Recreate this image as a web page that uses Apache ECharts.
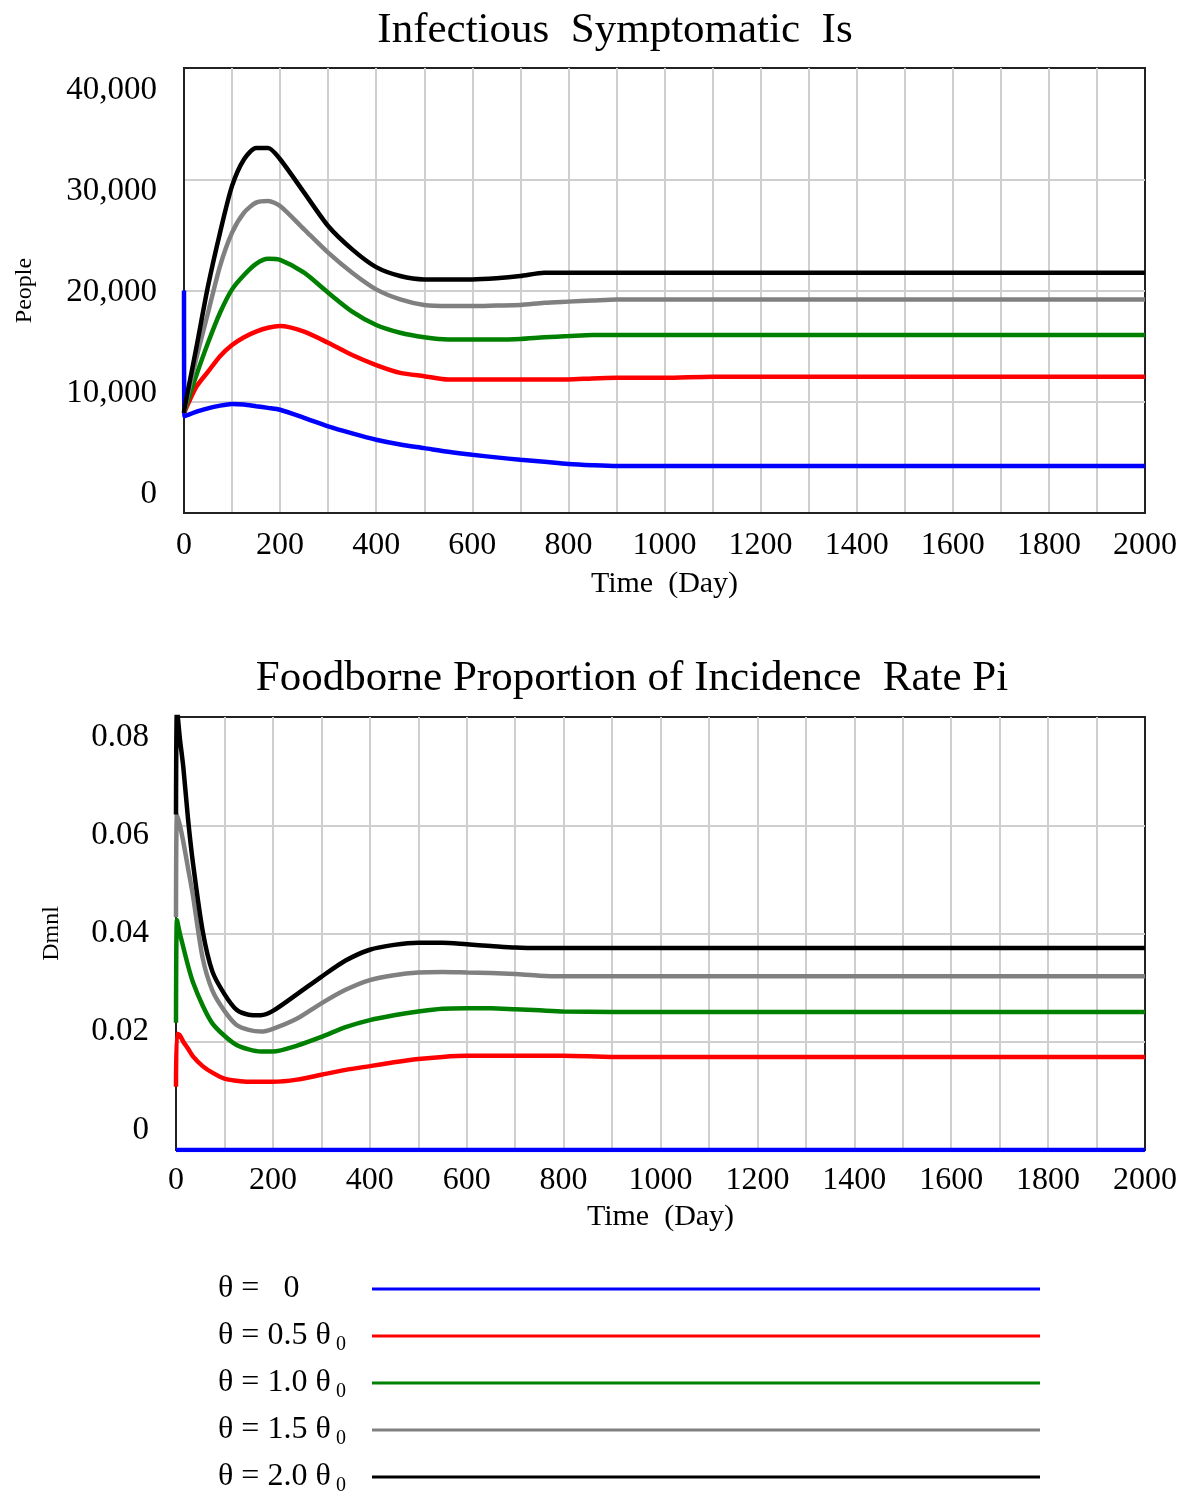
<!DOCTYPE html>
<html>
<head>
<meta charset="utf-8">
<script src="https://cdn.jsdelivr.net/npm/echarts@6/dist/echarts.min.js"></script>
<style>
  html, body { margin: 0; padding: 0; background: #fff; }
  #main { width: 1184px; height: 1492px; }
</style>
</head>
<body>
<div id="main"></div>
<script>
var FONT = '"Liberation Serif", "Times New Roman", serif';

// legend / series names
var seriesNames = ['θ = 0', 'θ = 0.5 θ0', 'θ = 1.0 θ0', 'θ = 1.5 θ0', 'θ = 2.0 θ0'];
var legendLabels = ['{a|θ =   0}{sub|\u00a0}', '{a|θ = 0.5 θ}{sub|0}', '{a|θ = 1.0 θ}{sub|0}', '{a|θ = 1.5 θ}{sub|0}', '{a|θ = 2.0 θ}{sub|0}'];
var colors = ['#0000ff', '#ff0000', '#008000', '#808080', '#000000'];

// Infectious Symptomatic Is (People)
var isTimes = [0, 1, 25, 50, 75, 100, 125, 150, 175, 200, 250, 300, 350, 400, 450, 500,
    550, 600, 650, 700, 750, 800, 850, 900, 1000, 1100, 1200, 1400, 1600, 1800, 2000];
var isBlue = [20000, 8700, 9100, 9400, 9650, 9800, 9750, 9600, 9450, 9280, 8550, 7780, 7150, 6580, 6150, 5830,
    5500, 5230, 5000, 4780, 4600, 4410, 4300, 4230, 4230, 4230, 4230, 4230, 4230, 4230, 4230];
var isRed = [9000, 9100, 11300, 12700, 14100, 15100, 15800, 16300, 16650, 16800, 16300, 15300, 14200, 13300, 12600, 12300,
    12000, 12000, 12000, 12000, 12000, 12000, 12100, 12150, 12150, 12250, 12250, 12250, 12250, 12250, 12250];
var isGreen = [9000, 9200, 12300, 15300, 18000, 20100, 21400, 22400, 22850, 22750, 21600, 19800, 18100, 16900, 16200, 15800,
    15600, 15600, 15600, 15650, 15800, 15900, 16000, 16000, 16000, 16000, 16000, 16000, 16000, 16000, 16000];
var isGray = [9000, 9300, 13800, 18000, 22200, 25200, 27000, 27900, 28050, 27600, 25500, 23400, 21600, 20100, 19200, 18700,
    18600, 18600, 18650, 18700, 18900, 19000, 19100, 19200, 19200, 19200, 19200, 19200, 19200, 19200, 19200];
var isBlack = [9000, 9400, 14700, 20400, 25200, 29400, 31800, 32800, 32800, 31800, 28800, 25800, 23700, 22100, 21300, 21000,
    21000, 21000, 21100, 21300, 21600, 21600, 21600, 21600, 21600, 21600, 21600, 21600, 21600, 21600, 21600];
var isTicks = [0, 10000, 20000, 30000, 40000];

// Foodborne Proportion of Incidence Rate Pi (Dmnl)
var piTimes = [0, 2, 8, 15, 25, 35, 55, 75, 100, 125, 150, 175, 200, 250, 300, 350, 400, 450, 500, 550, 600,
    650, 700, 750, 800, 900, 1000, 1200, 1400, 1600, 1800, 2000];
var piBlue = [0, 0, 0, 0, 0, 0, 0, 0, 0, 0, 0, 0, 0, 0, 0, 0, 0, 0, 0, 0, 0,
    0, 0, 0, 0, 0, 0, 0, 0, 0, 0, 0];
var piRed = [0.0117, 0.0215, 0.0212, 0.0200, 0.0187, 0.0173, 0.0155, 0.0143, 0.0132, 0.0128, 0.0126, 0.0126, 0.0126,
    0.0130, 0.0139, 0.0148, 0.0155, 0.0162, 0.0168, 0.0172, 0.0174,
    0.0174, 0.0174, 0.0174, 0.0174, 0.0172, 0.0172, 0.0172, 0.0172, 0.0172, 0.0172, 0.0172];
var piGreen = [0.0235, 0.0425, 0.0400, 0.0375, 0.0340, 0.0310, 0.0267, 0.0234, 0.0211, 0.0194, 0.0186, 0.0182, 0.0182,
    0.0193, 0.0209, 0.0227, 0.0240, 0.0249, 0.0256, 0.0261, 0.0262,
    0.0262, 0.0260, 0.0258, 0.0256, 0.0255, 0.0255, 0.0255, 0.0255, 0.0255, 0.0255, 0.0255];
var piGray = [0.043, 0.062, 0.060, 0.057, 0.052, 0.047, 0.0355, 0.0295, 0.0257, 0.0231, 0.0222, 0.0219, 0.0224,
    0.0243, 0.0271, 0.0296, 0.0314, 0.0323, 0.0328, 0.0329, 0.0328,
    0.0327, 0.0325, 0.0322, 0.0321, 0.0321, 0.0321, 0.0321, 0.0321, 0.0321, 0.0321, 0.0321];
var piBlack = [0.062, 0.0815, 0.076, 0.0708, 0.061, 0.053, 0.0405, 0.0330, 0.0288, 0.0259, 0.0250, 0.0249, 0.0257,
    0.0288, 0.0320, 0.0350, 0.0370, 0.0379, 0.0383, 0.0383, 0.0380,
    0.0377, 0.0374, 0.0373, 0.0373, 0.0373, 0.0373, 0.0373, 0.0373, 0.0373, 0.0373, 0.0373];
var piTicks = [0, 0.02, 0.04, 0.06, 0.08];

function zip(times, vals) {
    return times.map(function (t, i) { return [t, vals[i]]; });
}

function lineSeries(name, idx, data, color) {
    return {
        name: name,
        type: 'line',
        xAxisIndex: idx,
        yAxisIndex: idx * 2,
        data: data,
        showSymbol: false,
        smooth: 0.25,
        lineStyle: { color: color, width: 4.5 },
        itemStyle: { color: color },
        z: 3
    };
}

function timeAxis(idx, gap, margin) {
    return {
        type: 'value', gridIndex: idx, min: 0, max: 2000, interval: 100,
        name: 'Time  (Day)', nameLocation: 'middle', nameGap: gap,
        nameTextStyle: { fontFamily: FONT, fontSize: 30, color: '#000' },
        axisLine: { lineStyle: { color: '#222', width: 2 } },
        axisTick: { show: false },
        axisLabel: {
            fontFamily: FONT, fontSize: 32, color: '#000', margin: margin,
            formatter: function (v) { return v % 200 === 0 ? String(v) : ''; }
        },
        splitLine: { showMaxLine: false, lineStyle: { color: '#cfcfcf', width: 2 } }
    };
}

var grids = [
    { left: 184, right: 39, top: 68, height: 445, show: true, borderColor: '#222', borderWidth: 2 },
    { left: 176, right: 39, top: 717, height: 433, show: true, borderColor: '#222', borderWidth: 2 }
];

var option = {
    backgroundColor: '#fff',
    animation: false,
    title: [
        { text: 'Infectious  Symptomatic  Is', left: 615, top: 9, textAlign: 'center', padding: 0,
          textStyle: { fontFamily: FONT, fontSize: 43, fontWeight: 'normal', color: '#000' } },
        { text: 'Foodborne Proportion of Incidence  Rate Pi', left: 632, top: 657, textAlign: 'center', padding: 0,
          textStyle: { fontFamily: FONT, fontSize: 43, fontWeight: 'normal', color: '#000' } }
    ],
    grid: grids,
    legend: {
        orient: 'vertical', left: 218, top: 1273, height: 260, padding: 0,
        align: 'right', icon: 'rect', itemWidth: 668, itemHeight: 3, itemGap: 12,
        selectedMode: false,
        data: seriesNames,
        formatter: function (name) { return legendLabels[seriesNames.indexOf(name)]; },
        textStyle: {
            color: '#000',
            rich: {
                a: { fontFamily: FONT, fontSize: 32, lineHeight: 30, width: 118, align: 'left', color: '#000' },
                sub: { fontFamily: FONT, fontSize: 20, lineHeight: 2, width: 31, align: 'left',
                       verticalAlign: 'top', padding: [14, 0, 0, 0], color: '#000' }
            }
        }
    },
    xAxis: [timeAxis(0, 56, 17), timeAxis(1, 52, 15)],
    yAxis: [
        {
            type: 'value', gridIndex: 0, min: 0, max: 40000, interval: 10000,
            name: 'People', nameLocation: 'middle', nameGap: 147,
            nameTextStyle: { fontFamily: FONT, fontSize: 24, color: '#000' },
            axisLine: { show: true, lineStyle: { color: '#222', width: 2 } },
            axisTick: { show: false },
            axisLabel: { show: false },
            splitLine: { showMaxLine: false, lineStyle: { color: '#cfcfcf', width: 2 } }
        },
        {
            // label-only axis: tick labels sit slightly inside the gridlines, as in the source
            type: 'value', gridIndex: 0, min: -1881, max: 42178,
            position: 'left',
            axisLine: { show: false }, axisTick: { show: false }, splitLine: { show: false },
            axisLabel: {
                customValues: isTicks, margin: 27,
                fontFamily: FONT, fontSize: 33, color: '#000',
                formatter: function (v) { return Math.round(v).toLocaleString('en-US'); }
            }
        },
        {
            type: 'value', gridIndex: 1, min: 0, max: 0.08, interval: 0.02,
            name: 'Dmnl', nameLocation: 'middle', nameGap: 112,
            nameTextStyle: { fontFamily: FONT, fontSize: 24, color: '#000' },
            axisLine: { show: true, lineStyle: { color: '#222', width: 2 } },
            axisTick: { show: false },
            axisLabel: { show: false },
            splitLine: { showMaxLine: false, lineStyle: { color: '#cfcfcf', width: 2 } }
        },
        {
            type: 'value', gridIndex: 1, min: -0.00407, max: 0.08407,
            position: 'left',
            axisLine: { show: false }, axisTick: { show: false }, splitLine: { show: false },
            axisLabel: {
                customValues: piTicks, margin: 27,
                fontFamily: FONT, fontSize: 33, color: '#000',
                formatter: function (v) { return String(Math.round(v * 100) / 100); }
            }
        }
    ],
    series: [
        lineSeries(seriesNames[0], 0, zip(isTimes, isBlue), colors[0]),
        lineSeries(seriesNames[1], 0, zip(isTimes, isRed), colors[1]),
        lineSeries(seriesNames[2], 0, zip(isTimes, isGreen), colors[2]),
        lineSeries(seriesNames[3], 0, zip(isTimes, isGray), colors[3]),
        lineSeries(seriesNames[4], 0, zip(isTimes, isBlack), colors[4]),
        lineSeries(seriesNames[0], 1, zip(piTimes, piBlue), colors[0]),
        lineSeries(seriesNames[1], 1, zip(piTimes, piRed), colors[1]),
        lineSeries(seriesNames[2], 1, zip(piTimes, piGreen), colors[2]),
        lineSeries(seriesNames[3], 1, zip(piTimes, piGray), colors[3]),
        lineSeries(seriesNames[4], 1, zip(piTimes, piBlack), colors[4])
    ]
};

var chart = echarts.init(document.getElementById('main'), null, { renderer: 'canvas' });
chart.setOption(option);
</script>
</body>
</html>
